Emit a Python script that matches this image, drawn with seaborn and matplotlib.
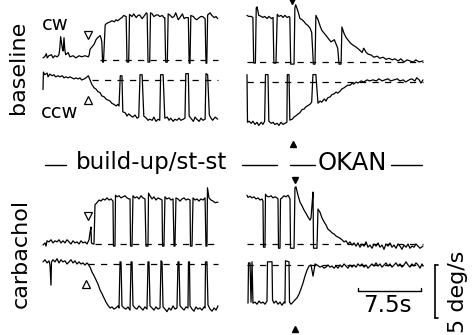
import matplotlib
matplotlib.use("Agg")
import matplotlib.pyplot as plt
import seaborn as sns

# ---------------- data: eye velocity traces (time s, velocity deg/s) ----------------
BASE_CW_BUILD = [(0.0,0.2),(0.2,0.3),(0.4,0.6),(0.5,0.2),(0.7,0.4),(1.0,0.5),(1.2,0.2),(1.4,0.4),(1.7,0.3),(1.9,0.5),
    (2.0,1.1),(2.1,2.2),(2.3,1.1),(2.4,0.85),(2.5,2.1),(2.6,0.95),(2.7,0.5),(3.0,0.7),(3.2,0.3),(3.6,0.4),(3.9,0.2),
    (4.3,0.4),(4.6,0.3),(5.0,0.4),(5.4,0.3),(5.5,0.5),(5.6,1.0),(5.8,1.2),(6.1,1.5),(6.3,1.9),(6.5,2.1),(6.8,2.3),
    (6.9,2.1),(7.0,1.7),(7.1,-0.2),(7.2,-0.2),(7.4,3.3),(7.5,3.4),(7.7,3.5),(8.0,3.6),(8.2,3.7),(8.5,3.6),(8.7,3.8),
    (8.9,3.7),(9.2,3.9),(9.4,4.0),(9.6,4.2),(9.9,4.1),(10.0,-0.2),(10.2,-0.2),(10.3,4.3),(10.6,4.1),(10.8,4.35),
    (11.1,4.0),(11.3,4.2),(11.5,4.25),(11.8,3.9),(12.0,4.1),(12.3,4.45),(12.4,4.35),(12.5,-0.2),(12.7,-0.2),
    (12.8,4.45),(13.0,4.35),(13.2,4.1),(13.5,4.25),(13.7,4.25),(13.9,4.1),(14.2,4.2),(14.4,4.0),(14.5,4.0),
    (14.6,-0.2),(14.8,-0.2),(14.9,4.35),(15.1,4.25),(15.4,4.0),(15.6,4.1),(15.8,4.45),(16.1,3.8),(16.3,4.0),
    (16.6,4.35),(16.8,3.9),(17.0,4.0),(17.3,4.0),(17.4,-0.3),(17.5,-0.3),(17.6,4.2),(17.9,4.1),(18.1,3.9),
    (18.3,3.8),(18.6,4.0),(18.8,4.1),(19.0,4.1),(19.3,3.9),(19.4,-0.3),(19.5,-0.3),(19.6,4.25),(19.9,4.45),
    (20.1,4.2),(20.4,4.0),(20.6,4.1),(20.8,3.9)]

BASE_CCW_BUILD = [(0.0,-0.9),(0.05,0.75),(0.2,0.5),(0.5,0.65),(0.6,0.3),(0.8,0.55),(1.1,0.4),(1.3,0.5),(1.5,0.3),
    (1.8,0.4),(2.0,0.3),(2.3,0.4),(2.5,0.2),(2.7,0.3),(3.0,0.2),(3.2,0.3),(3.45,0.2),(3.7,0.1),(3.9,0.2),(4.2,0.1),
    (4.4,0.2),(4.6,0.0),(4.9,0.1),(5.1,0.2),(5.4,0.4),(5.6,0.0),(5.8,-0.4),(6.1,-0.75),(6.3,-0.85),(6.55,-1.1),
    (6.8,-1.2),(7.0,-1.5),(7.3,-1.6),(7.5,-1.8),(7.75,-1.9),(8.0,-2.0),(8.2,-2.2),(8.45,-2.3),(8.7,-2.45),
    (8.9,-2.3),(9.05,-2.45),(9.2,0.4),(9.4,0.4),(9.5,-3.0),(9.8,-3.1),(10.0,-3.4),(10.2,-3.2),(10.5,-3.4),
    (10.7,-3.5),(10.95,-3.3),(11.2,-3.6),(11.4,-3.5),(11.55,0.5),(11.8,0.5),(12.0,-3.4),(12.3,-3.6),(12.5,-3.8),
    (12.7,-3.7),(13.0,-3.8),(13.2,-3.5),(13.45,-3.9),(13.7,-3.7),(13.9,-3.8),(14.0,0.5),(14.3,0.5),(14.5,-3.6),
    (14.8,-3.5),(15.0,-3.8),(15.2,-3.6),(15.5,-3.9),(15.7,-3.7),(15.95,-3.8),(16.2,-3.6),(16.4,-3.8),(16.7,-3.7),
    (16.9,-3.6),(17.0,0.6),(17.3,0.6),(17.4,-3.4),(17.6,-3.6),(17.9,-3.9),(18.1,-3.5),(18.3,-3.7),(18.6,-3.9),
    (18.8,-3.6),(19.05,-3.8),(19.3,-3.7),(19.4,0.6),(19.6,0.5),(19.8,-3.3),(20.0,-3.6),(20.2,-3.8),(20.5,-3.5),
    (20.8,-3.7)]

BASE_CW_OKAN = [(0.0,4.4),(0.2,4.3),(0.5,4.3),(0.7,4.2),(0.8,-0.1),(1.0,-0.1),(1.1,5.1),(1.2,5.2),(1.4,4.4),
    (1.7,4.3),(1.9,4.2),(2.1,4.3),(2.4,4.1),(2.6,4.3),(2.9,4.1),(3.1,4.2),(3.2,-0.1),(3.45,-0.1),(3.6,4.5),(3.8,4.3),
    (4.05,4.4),(4.3,4.2),(4.5,4.4),(4.8,4.2),(5.0,4.3),(5.1,4.2),(5.2,-0.2),(5.6,-0.2),(5.7,5.1),(5.8,5.4),(6.1,4.7),
    (6.3,4.1),(6.55,4.0),(6.8,3.8),(7.0,3.6),(7.3,3.4),(7.5,3.2),(7.7,2.8),(7.9,-0.2),(8.1,-0.2),(8.2,4.4),
    (8.45,4.0),(8.7,3.4),(8.9,3.0),(9.3,2.6),(9.6,2.3),(10.0,1.9),(10.4,2.1),(10.6,1.7),(10.8,1.3),(10.95,-0.2),
    (11.2,-0.2),(11.3,3.3),(11.55,2.7),(11.8,2.3),(12.0,2.1),(12.3,1.8),(12.6,1.6),(13.0,1.4),(13.3,1.2),
    (13.7,0.9),(13.9,1.3),(14.2,0.9),(14.4,0.75),(14.8,0.65),(15.1,0.45),(15.5,0.55),(15.8,0.35),(16.2,0.45),
    (16.55,0.25),(16.9,0.35),(17.3,0.2),(17.6,0.3),(18.0,0.1),(18.3,0.3),(18.7,0.0),(19.05,0.2),(19.4,0.1),
    (19.8,0.0),(20.1,0.2),(20.5,0.0),(20.95,0.1)]

BASE_CCW_OKAN = [(0.0,0.7),(0.06,-3.8),(0.24,-3.7),(0.5,-3.9),(0.7,-3.7),(0.95,-4.0),(1.2,-3.8),(1.4,-4.1),
    (1.7,-3.8),(1.9,-4.0),(2.1,-3.7),(2.2,0.7),(2.5,0.7),(2.6,-3.7),(2.9,-3.9),(3.1,-3.8),(3.3,-4.0),(3.6,-3.9),
    (3.8,-4.1),(4.05,-3.8),(4.3,-4.0),(4.5,-3.9),(4.75,-3.8),(4.8,0.7),(5.0,0.7),(5.1,-3.6),(5.4,-3.5),(5.6,-3.3),
    (5.8,-3.2),(6.1,-3.0),(6.3,-2.9),(6.55,-2.6),(6.8,-2.55),(7.0,-2.35),(7.3,-2.2),(7.5,-2.1),(7.7,-1.9),
    (7.85,0.7),(8.2,0.7),(8.45,-2.0),(8.7,-1.8),(8.9,-1.9),(9.2,-1.6),(9.4,-1.8),(9.6,-1.5),(9.9,-1.4),
    (10.1,-1.2),(10.4,-1.1),(10.6,-0.95),(10.8,-1.05),(11.1,-0.85),(11.3,-0.65),(11.55,-0.55),(11.8,-0.4),
    (12.0,-0.3),(12.3,-0.3),(12.5,-0.1),(12.7,-0.2),(13.0,0.0),(13.2,-0.1),(13.6,0.1),(13.9,0.0),(14.3,0.2),
    (14.6,0.1),(15.0,0.2),(15.4,0.1),(15.7,0.3),(16.1,0.1),(16.4,0.2),(16.8,0.3),(17.1,0.1),(17.5,0.2),(17.9,0.3),
    (18.2,0.1),(18.6,0.2),(18.9,0.0),(19.3,0.2),(19.6,0.3),(20.0,0.1),(20.2,0.4),(20.5,0.2),(20.7,-0.1),(20.95,0.2)]

CARB_CW_BUILD = [(0.0,-0.1),(0.24,0.1),(0.36,-0.2),(0.48,0.3),(0.71,0.2),(0.95,0.4),(1.19,0.1),(1.43,0.3),
    (1.67,0.2),(1.9,0.4),(2.14,0.1),(2.38,0.3),(2.62,0.1),(2.86,0.4),(3.1,0.2),(3.33,0.0),(3.57,0.3),(3.81,0.1),
    (4.05,0.2),(4.29,0.0),(4.52,0.3),(4.76,0.1),(5.0,0.2),(5.24,0.0),(5.48,0.4),(5.6,1.1),(5.71,1.6),(5.77,0.1),
    (5.95,0.0),(6.07,0.0),(6.19,3.7),(6.43,3.9),(6.67,4.15),(6.9,4.05),(7.14,4.25),(7.38,4.15),(7.62,4.35),
    (7.86,4.15),(8.1,4.25),(8.33,4.05),(8.39,-0.2),(8.57,-0.2),(8.63,4.6),(8.81,4.45),(9.05,4.55),(9.29,4.35),
    (9.52,4.45),(9.76,4.55),(10.0,4.35),(10.24,4.25),(10.36,4.25),(10.42,-0.2),(10.6,-0.2),(10.71,4.55),
    (10.95,4.35),(11.19,4.45),(11.43,4.25),(11.67,4.55),(11.9,4.35),(12.14,4.25),(12.26,-0.2),(12.5,-0.2),
    (12.56,4.8),(12.74,4.55),(12.98,4.25),(13.21,4.45),(13.45,4.15),(13.69,4.35),(13.93,4.25),(14.17,4.15),
    (14.23,-0.2),(14.4,-0.2),(14.52,4.45),(14.76,4.25),(15.0,4.35),(15.24,4.15),(15.48,4.25),(15.6,-0.2),
    (15.71,-0.2),(15.83,4.35),(16.07,4.25),(16.31,4.05),(16.55,4.25),(16.79,4.35),(17.02,4.15),(17.26,4.25),
    (17.5,4.15),(17.56,-0.2),(17.74,-0.2),(17.86,4.35),(18.1,4.15),(18.33,4.25),(18.57,4.05),(18.81,4.25),
    (19.05,4.15),(19.29,4.35),(19.4,-0.2),(19.52,-0.2),(19.58,5.3),(19.76,4.35),(20.0,4.15),(20.24,4.05),
    (20.48,3.9),(20.83,3.95)]

CARB_CCW_BUILD = [(0.0,0.2),(0.24,0.4),(0.48,0.1),(0.71,0.3),(0.83,-0.1),(0.95,-2.0),(1.01,0.2),(1.19,0.4),
    (1.43,0.2),(1.67,0.5),(1.9,0.1),(2.14,0.4),(2.38,0.2),(2.62,0.3),(2.86,0.0),(3.1,0.2),(3.33,0.4),(3.57,0.1),
    (3.81,0.3),(4.05,0.0),(4.29,0.2),(4.52,0.0),(4.76,0.1),(5.0,-0.1),(5.24,0.1),(5.36,0.0),(5.6,-0.3),
    (5.83,-0.75),(6.07,-1.1),(6.31,-1.5),(6.55,-1.9),(6.79,-2.45),(7.02,-2.8),(7.26,-3.2),(7.5,-3.6),(7.74,-3.9),
    (7.98,-4.15),(8.21,-4.05),(8.45,-4.25),(8.69,-4.15),(8.93,-3.95),(9.05,-4.15),(9.17,0.2),(9.29,0.2),
    (9.4,-3.95),(9.64,-4.15),(9.88,-4.25),(10.12,-4.05),(10.36,-4.35),(10.48,0.2),(10.6,0.2),(10.71,-3.9),
    (10.95,-4.15),(11.19,-4.25),(11.43,-3.95),(11.67,-4.15),(11.9,-4.35),(12.14,-4.05),(12.38,-4.25),(12.5,0.2),
    (12.62,0.2),(12.74,-3.95),(12.98,-4.15),(13.21,-4.35),(13.45,-4.05),(13.69,-4.25),(13.93,-4.15),(14.05,0.3),
    (14.17,0.2),(14.29,-4.05),(14.52,-4.25),(14.76,-4.5),(15.0,-4.15),(15.24,-4.35),(15.48,-3.95),(15.71,-4.25),
    (15.95,-4.15),(16.07,0.2),(16.19,0.2),(16.31,-3.95),(16.55,-4.15),(16.79,-4.35),(17.02,-4.05),(17.26,-4.15),
    (17.32,0.2),(17.44,0.2),(17.5,-3.95),(17.74,-4.25),(17.98,-4.45),(18.21,-4.05),(18.45,-4.25),(18.69,-4.15),
    (18.93,-4.35),(19.17,-4.05),(19.29,-4.15),(19.35,0.2),(19.52,0.2),(19.64,-3.85),(19.88,-4.25),(20.12,-4.45),
    (20.36,-4.15),(20.6,-4.35),(20.83,-3.95)]

CARB_CW_OKAN = [(0.0,4.6),(0.12,4.4),(0.36,4.5),(0.6,4.35),(0.83,4.45),(1.07,4.25),(1.31,4.35),(1.55,4.15),
    (1.79,4.25),(1.9,4.05),(1.96,-0.3),(2.14,-0.3),(2.2,4.7),(2.38,4.5),(2.62,4.45),(2.86,4.55),(3.1,4.35),
    (3.33,4.45),(3.57,4.35),(3.69,4.25),(3.75,-0.4),(3.93,-0.4),(3.99,4.25),(4.17,4.35),(4.4,4.55),(4.64,4.45),
    (4.88,4.6),(5.0,4.45),(5.12,4.25),(5.18,-0.4),(5.6,-0.4),(5.71,5.3),(5.83,5.4),(6.07,4.6),(6.31,3.95),
    (6.55,3.6),(6.79,3.2),(7.02,2.9),(7.26,2.55),(7.5,2.25),(7.62,2.45),(7.74,3.7),(7.86,4.9),(7.92,-0.4),
    (8.33,-0.4),(8.45,3.3),(8.69,3.0),(8.93,2.45),(9.17,2.1),(9.4,1.8),(9.64,1.4),(9.88,1.25),(10.12,1.05),
    (10.36,0.95),(10.6,0.75),(10.83,0.65),(11.07,0.55),(11.31,0.4),(11.55,0.2),(11.79,0.3),(12.02,0.0),
    (12.26,0.2),(12.5,-0.1),(12.74,0.1),(12.98,-0.2),(13.21,0.1),(13.45,-0.3),(13.69,0.0),(13.93,-0.2),
    (14.17,0.2),(14.4,-0.3),(14.64,-0.1),(14.88,-0.4),(15.12,0.0),(15.36,-0.2),(15.6,0.1),(15.83,-0.3),
    (16.07,-0.1),(16.31,-0.5),(16.55,0.0),(16.79,-0.2),(17.02,0.1),(17.26,-0.3),(17.5,-0.1),(17.74,-0.4),
    (17.98,0.0),(18.21,-0.2),(18.45,-0.5),(18.69,-0.1),(18.93,-0.3),(19.17,0.0),(19.4,-0.4),(19.64,-0.2),
    (19.88,-0.3),(20.12,0.0),(20.36,-0.2),(20.6,-0.4),(20.95,-0.2)]

CARB_CCW_OKAN = [(0.12,-3.6),(0.18,0.2),(0.36,0.2),(0.48,-3.5),(0.6,0.3),(0.71,-3.6),(0.95,-3.5),(1.19,-3.7),
    (1.43,-3.4),(1.67,-3.6),(1.9,-3.5),(2.14,-3.7),(2.38,-3.4),(2.44,0.3),(2.98,0.3),(3.04,-3.3),(3.21,-3.6),
    (3.45,-3.4),(3.69,-3.7),(3.93,-3.5),(4.17,-3.8),(4.4,-3.5),(4.52,-3.6),(4.58,0.4),(5.0,0.3),(5.06,-3.5),
    (5.24,-3.7),(5.48,-3.5),(5.71,-3.3),(5.95,-3.1),(6.19,-2.75),(6.43,-2.25),(6.67,-1.7),(6.9,-1.05),
    (7.14,-0.5),(7.38,-0.1),(7.62,0.0),(7.74,-0.5),(7.86,-1.05),(7.98,-0.5),(8.1,0.1),(8.33,0.0),(8.69,-0.2),
    (8.93,-0.1),(9.17,-0.3),(9.4,-0.2),(9.64,0.0),(9.88,-0.2),(10.12,-0.1),(10.36,-0.3),(10.6,-0.1),
    (10.83,-0.3),(11.07,0.0),(11.31,-0.2),(11.55,0.1),(11.79,-0.1),(12.02,-0.3),(12.26,0.0),(12.5,-0.2),
    (12.74,0.0),(12.98,-0.2),(13.21,0.1),(13.45,-0.1),(13.69,0.1),(13.93,-0.2),(14.17,0.0),(14.4,-0.3),
    (14.64,-0.1),(14.88,0.1),(15.12,-0.1),(15.36,0.2),(15.6,-0.1),(15.83,0.1),(16.07,-0.2),(16.31,0.0),
    (16.55,0.2),(16.79,-0.1),(17.02,0.1),(17.26,-0.2),(17.5,0.0),(17.74,0.2),(17.98,-0.1),(18.21,0.1),
    (18.45,-0.2),(18.69,0.0),(18.93,0.3),(19.17,0.0),(19.4,-0.2),(19.64,0.1),(19.88,-0.1),(20.12,0.2),
    (20.36,0.0),(20.6,-0.3),(20.83,0.1),(20.95,-0.1)]

CONDITIONS = ["baseline", "carbachol"]
DIRECTIONS = ["cw", "ccw"]
PHASES = ["build-up/st-st", "OKAN"]
TIME_BAR_S = 7.5
VEL_BAR_DEG = 5
TIME_BAR_LABEL = "7.5s"
VEL_BAR_LABEL = "5 deg/s"

# ---------------- layout ----------------
sns.set_theme(style="white")
plt.rcParams["font.family"] = ["DejaVu Sans"]
W, H = 475, 335
PPS = 8.4     # pixels per second
PPD = 10.6    # pixels per deg/s
fig = plt.figure(figsize=(W / 100, H / 100), dpi=100)
fig.patch.set_facecolor("white")

def trace_axes(x0, y0):
    ax = fig.add_axes([0, 0, 1, 1])
    ax.set_axis_off()
    ax.patch.set_alpha(0)
    ax.set_xlim(-x0 / PPS, (W - x0) / PPS)
    ax.set_ylim(-(H - y0) / PPD, y0 / PPD)
    return ax

# (data, x origin px, zero-line y px, dashed zero-line start time)
segments = [
    (BASE_CW_BUILD, 43, 60, 6.8),
    (BASE_CCW_BUILD, 43, 80, 5.8),
    (BASE_CW_OKAN, 247, 62, 0.0),
    (BASE_CCW_OKAN, 247, 82, 0.0),
    (CARB_CW_BUILD, 43, 244, 6.2),
    (CARB_CCW_BUILD, 43, 264, 5.4),
    (CARB_CW_OKAN, 247, 244, 0.0),
    (CARB_CCW_OKAN, 247, 265, 0.0),
]
axes = []
for data, x0, y0, dstart in segments:
    ax = trace_axes(x0, y0)
    t, v = zip(*data)
    ax.plot([dstart, t[-1]], [0, 0], color="black", lw=0.9, ls=(0, (5, 5)))
    sns.lineplot(x=list(t), y=list(v), ax=ax, color="black", lw=0.9,
                 sort=False, estimator=None)
    axes.append(ax)

# scale bars (data units of the last trace axes)
sb = axes[-1]
sb.plot([13.2, 13.2 + TIME_BAR_S], [-2.45, -2.45], color="black", lw=1.0, clip_on=False)
for tx in (13.2, 13.2 + TIME_BAR_S):
    sb.plot([tx, tx], [-2.45, -2.2], color="black", lw=1.0, clip_on=False)
sb.plot([22.4, 22.4], [0, -VEL_BAR_DEG], color="black", lw=1.2, clip_on=False)
for vy in (0, -VEL_BAR_DEG):
    sb.plot([22.4, 22.75], [vy, vy], color="black", lw=1.2, clip_on=False)

# overlay for labels
ov = fig.add_axes([0, 0, 1, 1])
ov.set_axis_off()
ov.patch.set_alpha(0)
ov.set_xlim(0, W)
ov.set_ylim(H, 0)

tk = dict(color="black", ha="center", va="center")
ov.text(18, 67, CONDITIONS[0], rotation=90, fontsize=16, **tk)
ov.text(21, 253, CONDITIONS[1], rotation=90, fontsize=16, **tk)
ov.text(55, 24, DIRECTIONS[0], fontsize=14, **tk)
ov.text(60, 113, DIRECTIONS[1], fontsize=14, **tk)
ov.text(152, 163, PHASES[0], fontsize=16.5, **tk)
ov.text(352, 163, PHASES[1], fontsize=17.5, **tk)
ov.text(387, 305, TIME_BAR_LABEL, fontsize=16.5, **tk)
ov.text(458, 292, VEL_BAR_LABEL, rotation=90, fontsize=16, **tk)

for xa, xb in [(45, 66), (242, 277), (290, 315), (391, 422)]:
    ov.plot([xa, xb], [165, 165], color="black", lw=1.0)

open_m = dict(mfc="white", mec="black", ms=6, mew=0.9, ls="none")
ov.plot([88], [35], marker="v", **open_m)
ov.plot([88], [100], marker="^", **open_m)
ov.plot([88], [216], marker="v", **open_m)
ov.plot([86], [284], marker="^", **open_m)
fill_m = dict(color="black", ms=5, ls="none", clip_on=False)
ov.plot([292], [1], marker="v", **fill_m)
ov.plot([293], [144], marker="^", **fill_m)
ov.plot([295], [180], marker="v", **fill_m)
ov.plot([295], [329], marker="^", **fill_m)

fig.savefig("out.png", dpi=100, facecolor="white")
